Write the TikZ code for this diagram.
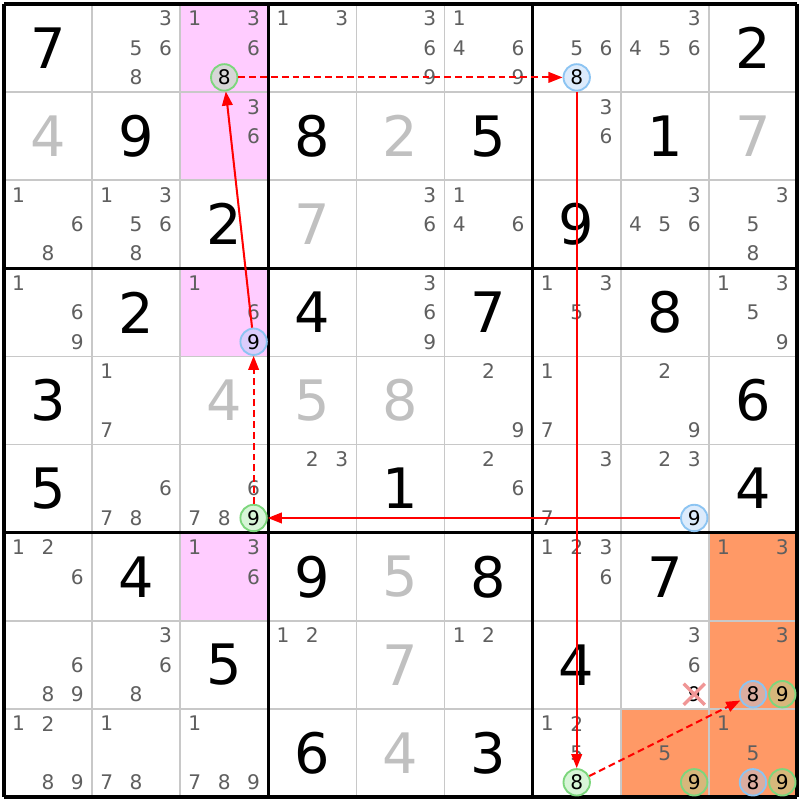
\documentclass[tikz,border=0pt]{standalone}
\usepackage{fontspec}
\setmainfont{DejaVu Sans}
\usetikzlibrary{arrows.meta}

\definecolor{pinkbg}{HTML}{FFCCFF}
\definecolor{orangebg}{HTML}{FF9966}
\definecolor{candgray}{HTML}{5F5F5F}
\definecolor{solvedgray}{HTML}{C0C0C0}
\definecolor{thingrid}{HTML}{C8C8C8}
\definecolor{greenedge}{HTML}{7CD67C}
\definecolor{greenfill}{HTML}{9BE69B}
\definecolor{blueedge}{HTML}{8CC4F2}
\definecolor{bluefill}{HTML}{A7CDF7}
\definecolor{crossred}{HTML}{F09696}

\tikzset{
  given/.style={font=\fontsize{18}{18}\selectfont,inner sep=0pt},
  solved/.style={given,text=solvedgray},
  cand/.style={font=\fontsize{6.5}{7}\selectfont,text=candgray,inner sep=0pt},
  ring/.style={circle,inner sep=0pt,minimum size=0.3cm,line width=0.6pt,
    font=\fontsize{6.5}{7}\selectfont,fill opacity=0.4,text opacity=1},
  greenring/.style={ring,draw=greenedge,fill=greenfill},
  bluering/.style={ring,draw=blueedge,fill=bluefill},
  stronglink/.style={draw=red,line width=0.65pt,-{Triangle[length=1.6mm,width=1.2mm]}},
  weaklink/.style={stronglink,dash pattern=on 2.2pt off 1.3pt}
}

\begin{document}
\begin{tikzpicture}
    \useasboundingbox(-0.045,-0.034)rectangle(9.034,9.045);
    %% cell colours
    \foreach \r/\c in {0/2,1/2,3/2,6/2}
        \fill[pinkbg](\c,9-\r)rectangle(\c+1,8-\r);
    \foreach \r/\c in {6/8,7/8,8/7,8/8}
        \fill[orangebg](\c,9-\r)rectangle(\c+1,8-\r);
    %% grid
    \foreach \i in {1,...,8}{
        \draw[thingrid,line width=0.5pt](\i,0)--(\i,9);
        \draw[thingrid,line width=0.5pt](0,\i)--(9,\i);
    }
    \foreach \i in {0,3,6,9}{
        \draw[black,line width=1pt](\i,0)--(\i,9);
        \draw[black,line width=1pt](0,\i)--(9,\i);
    }
    %% givens and solved cells
    \foreach \r/\c/\v in {0/0/7,0/8/2,1/1/9,1/3/8,1/5/5,1/7/1,2/2/2,2/6/9,3/1/2,3/3/4,3/5/7,3/7/8,
        4/0/3,4/8/6,5/0/5,5/4/1,5/8/4,6/1/4,6/3/9,6/5/8,6/7/7,7/2/5,7/6/4,8/3/6,8/5/3}
        \node[given](g\r\c)at(\c+0.5,8.5-\r){\v};
    \foreach \r/\c/\v in {1/0/4,1/4/2,1/8/7,2/3/7,4/2/4,4/3/5,4/4/8,6/4/5,7/4/7,8/4/4}
        \node[solved](g\r\c)at(\c+0.5,8.5-\r){\v};
    %% candidates
    \foreach \r/\c/\ds in {0/1/{3,5,6,8},0/2/{1,3,6},0/3/{1,3},0/4/{3,6,9},0/5/{1,4,6,9},0/6/{5,6},0/7/{3,4,5,6},
        1/2/{3,6},1/6/{3,6},
        2/0/{1,6,8},2/1/{1,3,5,6,8},2/4/{3,6},2/5/{1,4,6},2/7/{3,4,5,6},2/8/{3,5,8},
        3/0/{1,6,9},3/2/{1,6},3/4/{3,6,9},3/6/{1,3,5},3/8/{1,3,5,9},
        4/1/{1,7},4/5/{2,9},4/6/{1,7},4/7/{2,9},
        5/1/{6,7,8},5/2/{6,7,8},5/3/{2,3},5/5/{2,6},5/6/{3,7},5/7/{2,3},
        6/0/{1,2,6},6/2/{1,3,6},6/6/{1,2,3,6},6/8/{1,3},
        7/0/{6,8,9},7/1/{3,6,8},7/3/{1,2},7/5/{1,2},7/7/{3,6},7/8/{3},
        8/0/{1,2,8,9},8/1/{1,7,8},8/2/{1,7,8,9},8/6/{1,2,5},8/7/{5},8/8/{1,5}}
        \foreach \d in \ds
            \node[cand](n\r\c\d)at({\c+(mod(\d-1,3)+0.5)/3},{9-\r-(floor((\d-1)/3)+0.5)/3}){\d};
    \node[cand,text=black](n779)at(7+2.5/3,2-2.5/3){9};
    %% highlighted candidates
    \foreach \r/\c/\d in {0/2/8,5/2/9,8/6/8,7/8/9,8/7/9,8/8/9}
        \node[greenring](n\r\c\d)at({\c+(mod(\d-1,3)+0.5)/3},{9-\r-(floor((\d-1)/3)+0.5)/3}){\d};
    \foreach \r/\c/\d in {0/6/8,3/2/9,5/7/9,7/8/8,8/8/8}
        \node[bluering](n\r\c\d)at({\c+(mod(\d-1,3)+0.5)/3},{9-\r-(floor((\d-1)/3)+0.5)/3}){\d};
    %% chain
    \draw[weaklink](n028)--(n068);
    \draw[stronglink](n068)--(n868);
    \draw[weaklink](n868)--(n788);
    \draw[stronglink](n579)--(n529);
    \draw[weaklink](n529)--(n329);
    \draw[stronglink](n329)--(n028);
    %% eliminated candidate
    \draw[crossred,line width=1.1pt](n779.center)+(-0.12,-0.12)--+(0.12,0.12);
    \draw[crossred,line width=1.1pt](n779.center)+(-0.12,0.12)--+(0.12,-0.12);
\end{tikzpicture}
\end{document}
